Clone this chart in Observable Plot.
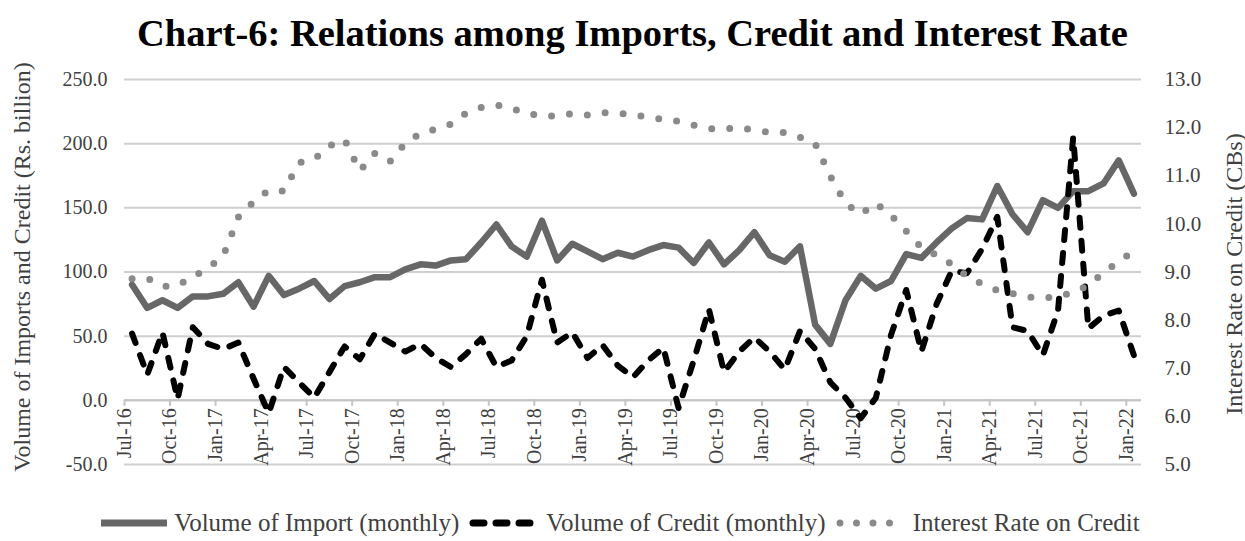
<!DOCTYPE html>
<html>
<head>
<meta charset="utf-8">
<script src="https://cdn.jsdelivr.net/npm/d3@7"></script>
<script src="https://cdn.jsdelivr.net/npm/@observablehq/plot@0.6"></script>
<style>
  body { margin: 0; background: #fff; }
  #wrap { position: relative; width: 1245px; height: 541px; overflow: hidden;
          font-family: "Liberation Serif", "Times New Roman", serif; color: #404040; }
  #chart { position: absolute; left: 0; top: 0; }
  #title { position: absolute; left: 10px; top: 11px; width: 1245px; text-align: center;
           font-weight: bold; font-size: 38.5px; color: #000; white-space: nowrap; }
  .ytitle { position: absolute; white-space: nowrap; font-size: 24px; color: #404040;
            transform: translate(-50%, -50%) rotate(-90deg); }
  #legend { position: absolute; left: -4px; top: 509px; width: 1245px; display: flex;
            justify-content: center; align-items: center; font-size: 25px; color: #404040; white-space: nowrap; }
  #legend .item { display: flex; align-items: center; margin: 0 5px; }
  #legend svg { margin-right: 3px; }
</style>
</head>
<body>
<div id="wrap">
  <div id="chart"></div>
  <div id="title">Chart-6: Relations among Imports, Credit and Interest Rate</div>
  <div class="ytitle" style="left:22px; top:267px;">Volume of Imports and Credit (Rs. billion)</div>
  <div class="ytitle" style="left:1234px; top:274px;">Interest Rate on Credit (CBs)</div>
  <div id="legend"></div>
</div>
<script>
// ---- Data ----
const months = [
  "Jul-16","Aug-16","Sep-16","Oct-16","Nov-16","Dec-16",
  "Jan-17","Feb-17","Mar-17","Apr-17","May-17","Jun-17","Jul-17","Aug-17","Sep-17","Oct-17","Nov-17","Dec-17",
  "Jan-18","Feb-18","Mar-18","Apr-18","May-18","Jun-18","Jul-18","Aug-18","Sep-18","Oct-18","Nov-18","Dec-18",
  "Jan-19","Feb-19","Mar-19","Apr-19","May-19","Jun-19","Jul-19","Aug-19","Sep-19","Oct-19","Nov-19","Dec-19",
  "Jan-20","Feb-20","Mar-20","Apr-20","May-20","Jun-20","Jul-20","Aug-20","Sep-20","Oct-20","Nov-20","Dec-20",
  "Jan-21","Feb-21","Mar-21","Apr-21","May-21","Jun-21","Jul-21","Aug-21","Sep-21","Oct-21","Nov-21","Dec-21",
  "Jan-22"
];
const importVolume = [
  90,72,78,72,81,81,83,92,73,97,
  82,87,93,79,89,92,96,96,102,106,
  105,109,110,123,137,120,112,140,109,122,
  116,110,115,112,117,121,119,107,123,106,
  117,131,113,108,120,59,44,78,97,87,
  93,114,111,123,134,142,141,167,145,131,
  156,150,163,163,169,187,161
];
const creditVolume = [
  52,20,53,1,57,44,40,45,17,-10,
  26,14,2,22,42,32,52,45,38,44,
  33,26,36,48,26,31,50,94,45,53,
  33,43,27,18,31,41,-6,31,71,22,
  38,49,38,24,54,40,14,2,-14,2,
  51,86,38,75,101,99,118,143,57,54,
  35,70,205,56,66,70,35
];
const interestRate = [
  8.86,8.87,8.70,8.72,8.90,9.08,9.33,10.14,10.46,10.70,
  10.68,11.27,11.34,11.62,11.75,11.10,11.47,11.30,11.68,11.88,
  11.97,12.07,12.30,12.42,12.47,12.40,12.30,12.24,12.24,12.29,
  12.26,12.31,12.30,12.26,12.22,12.17,12.13,12.05,11.98,11.97,
  12.00,11.95,11.90,11.90,11.80,11.67,10.99,10.43,10.20,10.43,
  10.18,9.85,9.51,9.35,9.16,8.91,8.75,8.62,8.55,8.48,
  8.46,8.48,8.58,8.72,8.99,9.22,9.43
];
const xTickLabels = ["Jul-16","Oct-16","Jan-17","Apr-17","Jul-17","Oct-17","Jan-18","Apr-18","Jul-18","Oct-18",
  "Jan-19","Apr-19","Jul-19","Oct-19","Jan-20","Apr-20","Jul-20","Oct-20","Jan-21","Apr-21","Jul-21","Oct-21","Jan-22"];
const leftTicks = [-50, 0, 50, 100, 150, 200, 250];
const rightTicks = [5, 6, 7, 8, 9, 10, 11, 12, 13];
const seriesNames = ["Volume of Import (monthly)", "Volume of Credit (monthly)", "Interest Rate on Credit"];

// ---- secondary axis mapping (right domain onto left domain) ----
const L0 = leftTicks[0], L1 = leftTicks[leftTicks.length - 1];
const R0 = rightTicks[0], R1 = rightTicks[rightTicks.length - 1];
const toLeft = v => L0 + (v - R0) * (L1 - L0) / (R1 - R0);
const fromLeft = v => R0 + (v - L0) * (R1 - R0) / (L1 - L0);

const rows = months.map((m, i) => ({
  i: i + 0.5, m,
  imp: importVolume[i],
  cred: creditVolume[i],
  rate: toLeft(interestRate[i])
}));
const xTicks = xTickLabels.map(label => ({pos: months.indexOf(label), label}));

const colImport = "#676767", colCredit = "#000000", colRate = "#8a8a8a", gridCol = "#cfcfcf";

const chart = Plot.plot({
  width: 1245,
  height: 541,
  marginLeft: 124,
  marginRight: 104,
  marginTop: 79,
  marginBottom: 77,
  style: {fontFamily: '"Liberation Serif", "Times New Roman", serif', fontSize: "20px", color: "#404040", background: "transparent"},
  x: {type: "linear", domain: [0, months.length], axis: null},
  y: {domain: [L0, L1], axis: null},
  marks: [
    Plot.ruleY(leftTicks, {stroke: gridCol, strokeWidth: 2}),
    Plot.ruleY([0], {stroke: "#c4c4c4", strokeWidth: 2}),
    Plot.ruleX(xTicks, {x: "pos", y1: 0, y2: 0, insetBottom: -6, stroke: "#c4c4c4", strokeWidth: 2}),
    Plot.text(xTicks, {x: "pos", y: 0, text: "label", rotate: -90, textAnchor: "end", dy: 8, fill: "#404040", fontSize: 20}),
    Plot.line(rows, {x: "i", y: "imp", stroke: colImport, strokeWidth: 6.5, strokeLinejoin: "round", strokeLinecap: "round"}),
    Plot.line(rows, {x: "i", y: "cred", stroke: colCredit, strokeWidth: 6, strokeDasharray: "10,13", strokeLinecap: "round", strokeLinejoin: "round"}),
    Plot.line(rows, {x: "i", y: "rate", stroke: colRate, strokeWidth: 7, strokeDasharray: "0,18", strokeLinecap: "round", strokeLinejoin: "round"}),
    Plot.axisY(leftTicks, {anchor: "left", tickSize: 0, tickPadding: 17, tickFormat: d => d.toFixed(1), label: null, fontSize: 20}),
    Plot.axisY(rightTicks.map(toLeft), {anchor: "right", tickSize: 0, tickPadding: 23, tickFormat: d => fromLeft(d).toFixed(1), label: null, fontSize: 21})
  ]
});
document.getElementById("chart").appendChild(chart);

// ---- legend ----
const legend = d3.select("#legend");
const styles = [
  {stroke: colImport, width: 7, dash: null, cap: "butt"},
  {stroke: colCredit, width: 7, dash: "11,12", cap: "round"},
  {stroke: colRate, width: 7, dash: "0,16.5", cap: "round"}
];
seriesNames.forEach((name, k) => {
  const it = legend.append("span").attr("class", "item");
  const s = it.append("svg").attr("width", 74).attr("height", 14);
  const st = styles[k];
  const ln = s.append("line").attr("x1", 4).attr("x2", 70).attr("y1", 7).attr("y2", 7)
    .attr("stroke", st.stroke).attr("stroke-width", st.width).attr("stroke-linecap", st.cap);
  if (st.dash) ln.attr("stroke-dasharray", st.dash);
  it.append("span").text(name);
});
</script>
</body>
</html>
